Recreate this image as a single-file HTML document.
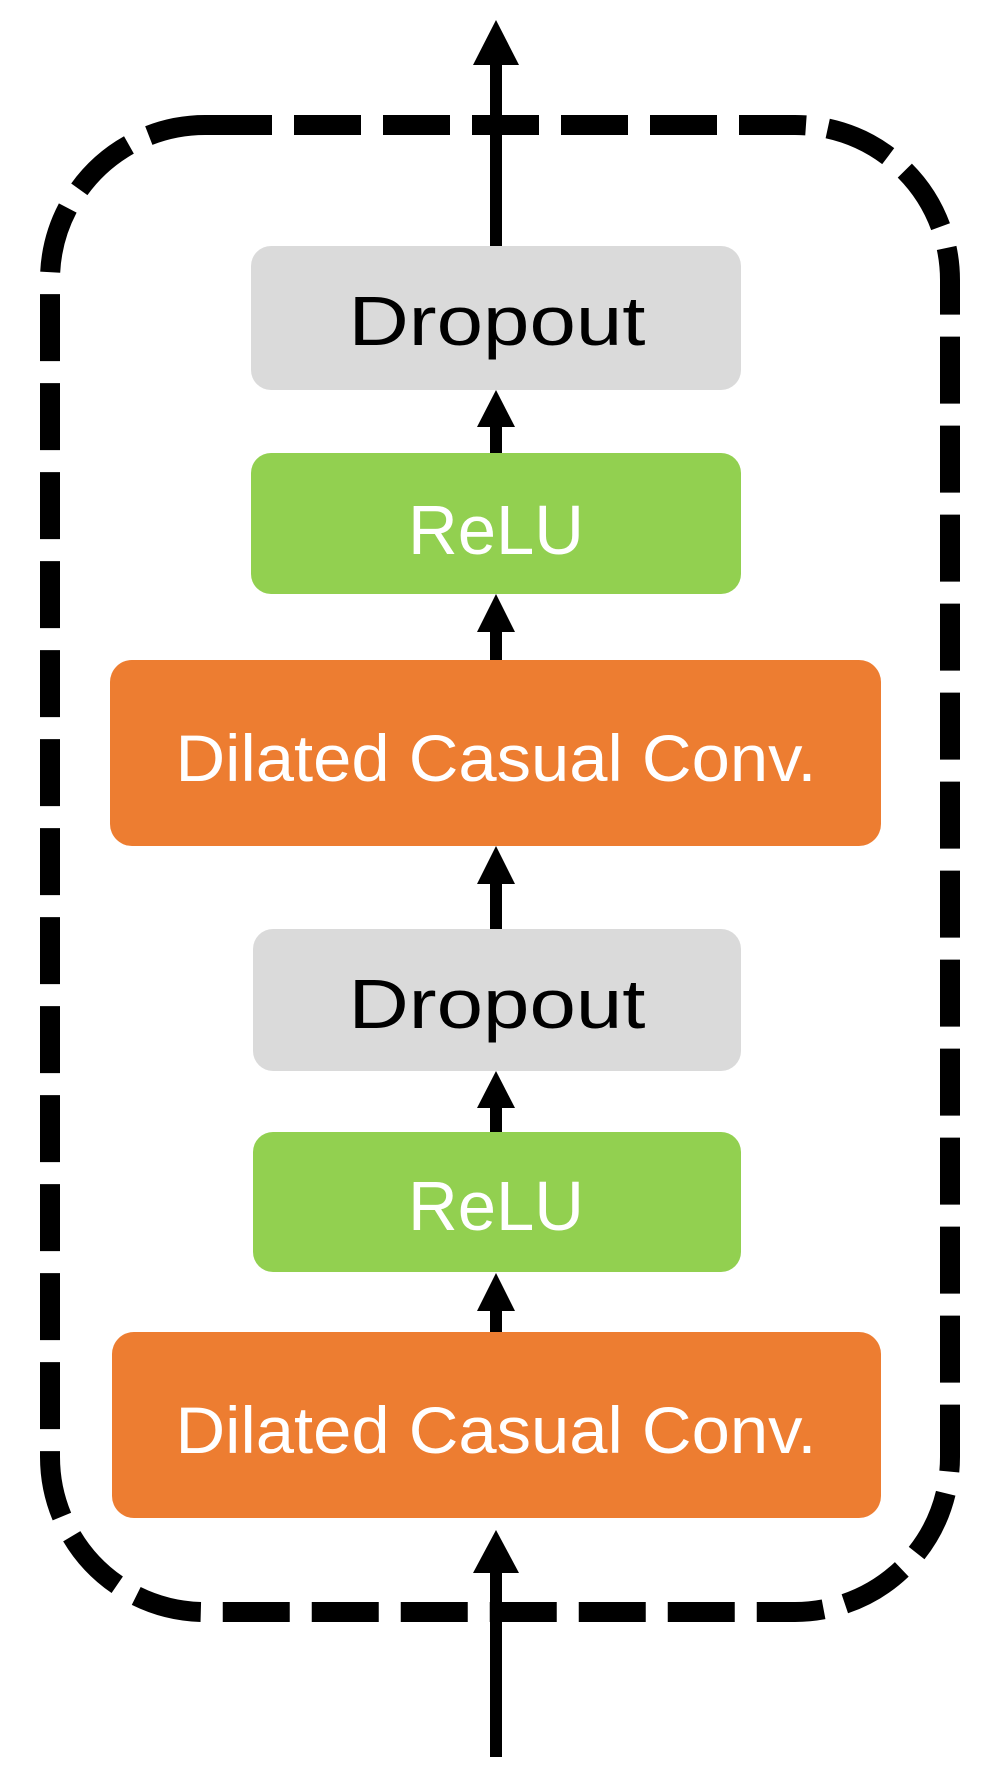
<!DOCTYPE html>
<html><head><style>html,body{margin:0;padding:0;background:#fff}svg{display:block}</style></head>
<body>
<svg width="995" height="1770" viewBox="0 0 995 1770" xmlns="http://www.w3.org/2000/svg" font-family="'Liberation Sans', sans-serif">
<rect x="50" y="125" width="900" height="1487" rx="155" ry="155" fill="none" stroke="#000" stroke-width="20" stroke-dasharray="67 22"/>
<g fill="#000" stroke="none">
<rect x="490" y="62" width="12" height="185"/>
<polygon points="496,20 473,65 519,65"/>
<rect x="490" y="422" width="12" height="33"/>
<polygon points="496,390 477,427 515,427"/>
<rect x="490" y="628" width="12" height="34"/>
<polygon points="496,594 477,632 515,632"/>
<rect x="490" y="880" width="12" height="51"/>
<polygon points="496,846 477,884 515,884"/>
<rect x="490" y="1103" width="12" height="33"/>
<polygon points="496,1071 477,1108 515,1108"/>
<rect x="490" y="1305" width="12" height="28"/>
<polygon points="496,1273 477,1311 515,1311"/>
<rect x="490" y="1570" width="12" height="187"/>
<polygon points="496,1530 473,1573 519,1573"/>
</g>
<rect x="251" y="246" width="490" height="144" rx="20" fill="#dadada"/>
<rect x="251" y="453" width="490" height="141" rx="20" fill="#92d050"/>
<rect x="110" y="660" width="771" height="186" rx="22" fill="#ed7d31"/>
<rect x="253" y="929" width="488" height="142" rx="20" fill="#dadada"/>
<rect x="253" y="1132" width="488" height="140" rx="20" fill="#92d050"/>
<rect x="112" y="1332" width="769" height="186" rx="22" fill="#ed7d31"/>
<g text-anchor="middle" font-size="70">
<text x="497" y="345" textLength="297" lengthAdjust="spacingAndGlyphs" fill="#000">Dropout</text>
<text x="496" y="554" textLength="176" lengthAdjust="spacingAndGlyphs" fill="#fff">ReLU</text>
<text x="496" y="781" textLength="641" lengthAdjust="spacingAndGlyphs" fill="#fff" font-size="66">Dilated Casual Conv.</text>
<text x="497" y="1028" textLength="297" lengthAdjust="spacingAndGlyphs" fill="#000">Dropout</text>
<text x="496" y="1230" textLength="176" lengthAdjust="spacingAndGlyphs" fill="#fff">ReLU</text>
<text x="496" y="1453" textLength="641" lengthAdjust="spacingAndGlyphs" fill="#fff" font-size="66">Dilated Casual Conv.</text>
</g>
</svg>
</body></html>
